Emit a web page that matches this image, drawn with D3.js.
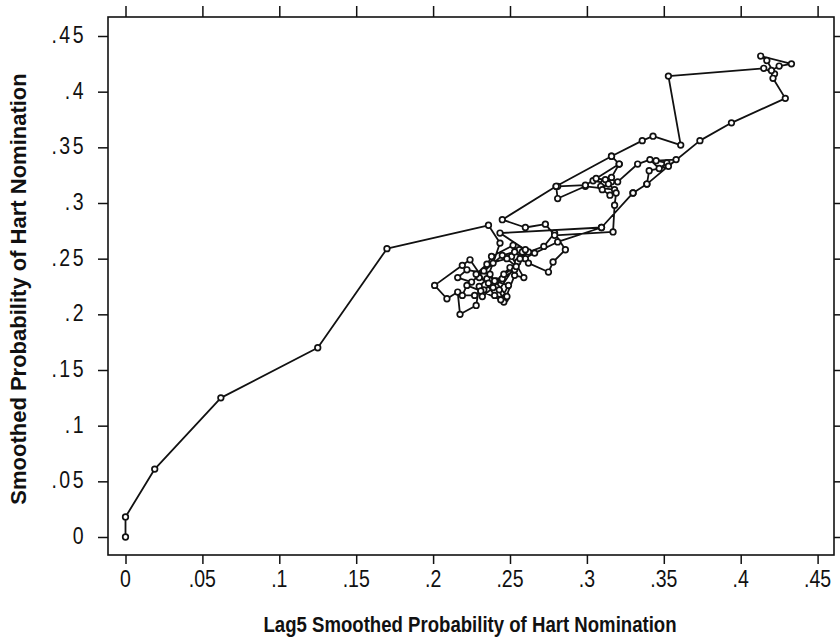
<!DOCTYPE html>
<html><head><meta charset="utf-8">
<script src="https://cdn.jsdelivr.net/npm/d3@7"></script>
<style>
html,body{margin:0;padding:0;background:#fff;}
svg{display:block;}
text{font-family:"Liberation Sans",Arial,Helvetica,sans-serif;fill:#111;}
</style></head>
<body>
<svg id="chart" width="840" height="639"></svg>
<script>
// Lag5 smoothed probability (x) vs smoothed probability (y), in time order
const lagValues = [0,0,.019,.062,.125,.170,.236,.2435,.239,.235,.230,.228,.2175,.216,.209,.201,.219,.224,.240,.247,.253,.259,.251,.256,.260,.253,.245,.225,.216,.222,.237,.248,.246,.243,.255,.262,.272,.279,.286,.278,.275,.262,.258,.260,.2435,.3095,.330,.339,.358,.345,.352,.347,.341,.333,.320,.316,.311,.304,.306,.312,.309,.314,.318,.299,.281,.280,.316,.321,.299,.281,.280,.245,.260,.273,.279,.317,.318,.319,.315,.310,.316,.321,.316,.336,.343,.361,.353,.415,.422,.417,.413,.433,.425,.420,.421,.429,.394,.3735,.353,.3405,.339,.330,.3095,.281,.266,.255,.250,.241,.233,.227,.219,.222,.231,.244,.249,.240,.233,.238,.252,.2565,.253,.245,.236,.230,.228,.235,.248,.254,.246,.239,.232];
const probValues = [0,.018,.061,.125,.170,.259,.280,.264,.246,.232,.225,.208,.200,.220,.214,.226,.244,.249,.217,.214,.235,.233,.252,.258,.250,.256,.253,.229,.233,.240,.236,.216,.211,.222,.247,.256,.261,.273,.258,.247,.238,.246,.256,.258,.273,.278,.309,.317,.339,.338,.336,.331,.339,.335,.319,.319,.318,.320,.322,.321,.315,.317,.312,.315,.304,.315,.342,.335,.316,.315,.315,.285,.278,.281,.271,.274,.298,.309,.307,.312,.323,.335,.342,.356,.360,.352,.414,.421,.416,.428,.432,.425,.423,.419,.412,.394,.372,.356,.333,.329,.317,.309,.278,.265,.255,.247,.242,.230,.222,.217,.217,.226,.221,.213,.226,.230,.239,.252,.262,.250,.240,.232,.228,.233,.236,.245,.250,.243,.236,.224,.216];
const tickValues = [0,.05,.1,.15,.2,.25,.3,.35,.4,.45];
const tickLabels = ["0",".05",".1",".15",".2",".25",".3",".35",".4",".45"];
const xTitle = "Lag5 Smoothed Probability of Hart Nomination";
const yTitle = "Smoothed Probability of Hart Nomination";

const svg = d3.select("#chart");
const frame = {left:108, right:834, top:17, bottom:555};
const x = d3.scaleLinear().domain([0,.45]).range([125.5,817.6]);
const y = d3.scaleLinear().domain([0,.45]).range([537,36]);

const pts = lagValues.map((v,i)=>({x:v,y:probValues[i]}));

// frame
svg.append("rect").attr("x",frame.left).attr("y",frame.top)
  .attr("width",frame.right-frame.left).attr("height",frame.bottom-frame.top)
  .attr("fill","none").attr("stroke","#111").attr("stroke-width",1.6);

function styleAxis(g){
  g.select(".domain").remove();
  g.selectAll(".tick line").attr("stroke","#111").attr("stroke-width",1.5);
  g.selectAll(".tick text").remove();
}
svg.append("g").attr("transform",`translate(0,${frame.bottom})`)
  .call(d3.axisBottom(x).tickValues(tickValues).tickSize(9)).call(styleAxis);
svg.append("g").attr("transform",`translate(0,${frame.top})`)
  .call(d3.axisTop(x).tickValues(tickValues).tickSize(11)).call(styleAxis);
svg.append("g").attr("transform",`translate(${frame.left},0)`)
  .call(d3.axisLeft(y).tickValues(tickValues).tickSize(10)).call(styleAxis);
svg.append("g").attr("transform",`translate(${frame.right},0)`)
  .call(d3.axisRight(y).tickValues(tickValues).tickSize(8)).call(styleAxis);

// tick labels (slightly tall glyphs as in the scan)
tickValues.forEach((v,i)=>{
  svg.append("text").attr("transform",`translate(${x(v)},587) scale(1,1.25)`)
    .attr("text-anchor","middle").style("font-size","19.5px").text(tickLabels[i]);
  svg.append("text").attr("transform",`translate(86,${y(v)+7}) scale(1,1.25)`)
    .attr("text-anchor","end").style("font-size","19.5px").style("letter-spacing","2.5px").text(tickLabels[i]);
});

// titles
svg.append("text").attr("transform","translate(470,632) scale(1,1.15)")
  .attr("text-anchor","middle").style("font-size","18.6px").style("font-weight","bold").text(xTitle);
svg.append("text").attr("transform","translate(26,289) rotate(-90)")
  .attr("text-anchor","middle").style("font-size","22px").style("font-weight","bold").text(yTitle);

// path
const line = d3.line().x(d=>x(d.x)).y(d=>y(d.y));
svg.append("path").datum(pts).attr("d",line)
  .attr("fill","none").attr("stroke","#111").attr("stroke-width",1.8).attr("stroke-linejoin","round");

svg.append("g").selectAll("circle").data(pts).join("circle")
  .attr("cx",d=>x(d.x)).attr("cy",d=>y(d.y)).attr("r",2.8)
  .attr("fill","#fff").attr("stroke","#111").attr("stroke-width",1.7);
</script>
</body></html>
